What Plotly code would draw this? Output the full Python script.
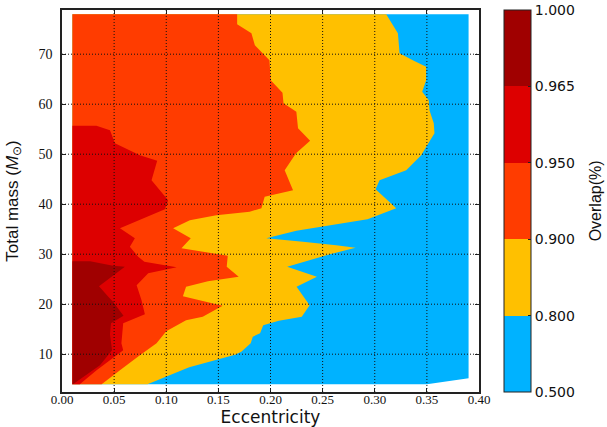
import plotly.graph_objects as go

# ---- data ----
level_labels = ["0.500", "0.800", "0.900", "0.950", "0.965", "1.000"]
band_colors = ["#00b2ff", "#ffc000", "#ff3c00", "#dd0000", "#a00000"]

x_ticks = [0.00, 0.05, 0.10, 0.15, 0.20, 0.25, 0.30, 0.35, 0.40]
y_ticks = [10, 20, 30, 40, 50, 60, 70]

# computed domain (overlap >= 0.5)
domain_ecc = [0.01, 0.35, 0.39, 0.39, 0.01]
domain_mass = [4.0, 4.0, 5.2, 78.0, 78.0]

# eccentricity where the overlap falls below each level, as a function of total mass
c080_mass = [4.0, 7.4, 9.9, 10.5, 12.2, 13.5, 14.2, 15.8, 16.7, 17.5, 19.8, 23.5, 25.5, 27.5,
             30.0, 31.3, 31.8, 32.5, 33.2, 34.7, 35.6, 36.5, 37.0, 39.2, 43.0, 44.8, 46.8,
             49.8, 51.5, 54.2, 56.2, 58.8, 60.8, 62.5, 64.8, 67.5, 68.8, 70.2, 74.2, 78.0]
c080_ecc = [0.082, 0.122, 0.166, 0.172, 0.181, 0.183, 0.190, 0.193, 0.208, 0.230, 0.2375, 0.225,
            0.2445, 0.216, 0.257, 0.2816, 0.263, 0.231, 0.196, 0.2248, 0.2503, 0.2759, 0.293,
            0.3206, 0.3008, 0.3046, 0.3302, 0.3445, 0.3493, 0.3573, 0.3566, 0.3525, 0.3518,
            0.3455, 0.3493, 0.3493, 0.3365, 0.3238, 0.3222, 0.311]

c090_mass = [4.0, 6.8, 8.8, 9.8, 12.2, 14.6, 16.8, 17.5, 19.7, 21.6, 23.5, 24.6, 25.5, 27.5,
             29.7, 31.2, 33.2, 35.2, 36.8, 37.8, 38.5, 39.2, 41.5, 42.8, 46.8, 50.2, 52.7,
             55.2, 58.5, 60.2, 62.3, 64.8, 68.8, 71.8, 74.2, 76.0, 78.0]
c090_ecc = [0.038, 0.0556, 0.068, 0.0747, 0.0907, 0.100, 0.119, 0.135, 0.154, 0.116, 0.119,
            0.140, 0.1695, 0.158, 0.159, 0.1146, 0.1235, 0.1066, 0.1226, 0.148, 0.180, 0.1913,
            0.1944, 0.2216, 0.2136, 0.2245, 0.238, 0.2264, 0.2248, 0.2125, 0.2115, 0.2002,
            0.199, 0.185, 0.1817, 0.168, 0.168]

c095_mass = [4.0, 6.8, 10.8, 12.2, 16.2, 18.0, 20.8, 23.8, 26.2, 27.4, 28.5, 29.5, 31.5,
             33.2, 35.2, 39.0, 40.8, 44.8, 48.7, 49.8, 52.2, 54.8, 55.7]
c095_ecc = [0.017, 0.0332, 0.0587, 0.057, 0.0587, 0.0795, 0.0763, 0.0716, 0.0827, 0.110,
            0.079, 0.0731, 0.0651, 0.0699, 0.0556, 0.0987, 0.1018, 0.0859, 0.0913, 0.0747,
            0.0508, 0.046, 0.033]

c0965_mass = [4.0, 7.8, 10.8, 14.0, 16.2, 17.7, 20.5, 21.5, 23.6, 27.5, 27.7, 28.6]
c0965_ecc = [0.0105, 0.0364, 0.048, 0.046, 0.047, 0.059, 0.049, 0.0444, 0.0355, 0.0603,
             0.049, 0.027]

boundaries = [(c080_ecc, c080_mass), (c090_ecc, c090_mass),
              (c095_ecc, c095_mass), (c0965_ecc, c0965_mass)]

fig = go.Figure()

# lowest band: the whole computed domain
fig.add_trace(go.Scatter(x=domain_ecc, y=domain_mass, fill="toself", mode="lines",
                         line=dict(width=0), fillcolor=band_colors[0],
                         hoverinfo="skip", showlegend=False))

e_min = min(domain_ecc)
for (ecc, mass), color in zip(boundaries, band_colors[1:]):
    xs = [e_min] + list(ecc) + [e_min]
    ys = [mass[0]] + list(mass) + [mass[-1]]
    fig.add_trace(go.Scatter(x=xs, y=ys, fill="toself", mode="lines",
                             line=dict(width=0), fillcolor=color,
                             hoverinfo="skip", showlegend=False))

# discrete colour bar
n = len(band_colors)
cscale = []
for i, c in enumerate(band_colors):
    cscale += [[i / n, c], [(i + 1) / n, c]]
fig.add_trace(go.Scatter(
    x=[None], y=[None], mode="markers", hoverinfo="skip", showlegend=False,
    marker=dict(color=[0], cmin=0, cmax=n, colorscale=cscale, showscale=True,
                colorbar=dict(
                    x=1.061, xanchor="left", xpad=0, y=0.5, yanchor="middle", ypad=0,
                    len=1.0, lenmode="fraction", thickness=27,
                    outlinewidth=1, outlinecolor="#222",
                    tickvals=list(range(n + 1)), ticktext=level_labels,
                    ticks="inside", ticklen=3, tickcolor="#222",
                    tickfont=dict(family="DejaVu Sans", size=14, color="#111"),
                ))))

# dotted grid drawn above the filled regions
shapes = []
for xv in x_ticks[1:-1]:
    shapes.append(dict(type="line", xref="x", yref="paper", x0=xv, x1=xv, y0=0, y1=1,
                       line=dict(color="#111", width=1, dash="1px,2px"), layer="above"))
for yv in y_ticks:
    shapes.append(dict(type="line", xref="paper", yref="y", x0=0, x1=1, y0=yv, y1=yv,
                       line=dict(color="#111", width=1, dash="1px,2px"), layer="above"))

fig.update_layout(
    width=607, height=427,
    margin=dict(l=62, r=127.5, t=10, b=35, autoexpand=False),
    paper_bgcolor="white", plot_bgcolor="white",
    shapes=shapes,
    annotations=[dict(text="Overlap(%)", xref="paper", yref="paper", x=1.279, y=0.5,
                      xanchor="center", yanchor="middle", textangle=-90, showarrow=False,
                      font=dict(family="Liberation Sans", size=16, color="#111"))],
    xaxis=dict(range=[0, 0.4], tickvals=x_ticks, tickformat=".2f", automargin=False,
               showgrid=False, zeroline=False,
               showline=True, linecolor="#222", linewidth=1.5, mirror="ticks",
               ticks="inside", ticklen=4, tickcolor="#222", ticklabelstandoff=-5,
               tickfont=dict(family="Liberation Serif, Times New Roman, serif", size=13,
                             color="#111"),
               title=dict(text="Eccentricity", standoff=4,
                          font=dict(family="DejaVu Sans", size=17, color="#111"))),
    yaxis=dict(range=[2.44, 78.84], tickvals=y_ticks, automargin=False,
               showgrid=False, zeroline=False,
               showline=True, linecolor="#222", linewidth=1.5, mirror="ticks",
               ticks="inside", ticklen=4, tickcolor="#222", ticklabelstandoff=5,
               tickfont=dict(family="Liberation Serif, Times New Roman, serif", size=14,
                             color="#111"),
               title=dict(text="Total mass (<i>M</i><sub>⊙</sub>)", standoff=16,
                          font=dict(family="Liberation Sans", size=17, color="#111"))),
)

fig.write_html("out.html", config={"displayModeBar": False},
               post_script="document.body.style.margin='0';"
                           "document.body.style.overflow='hidden';")
